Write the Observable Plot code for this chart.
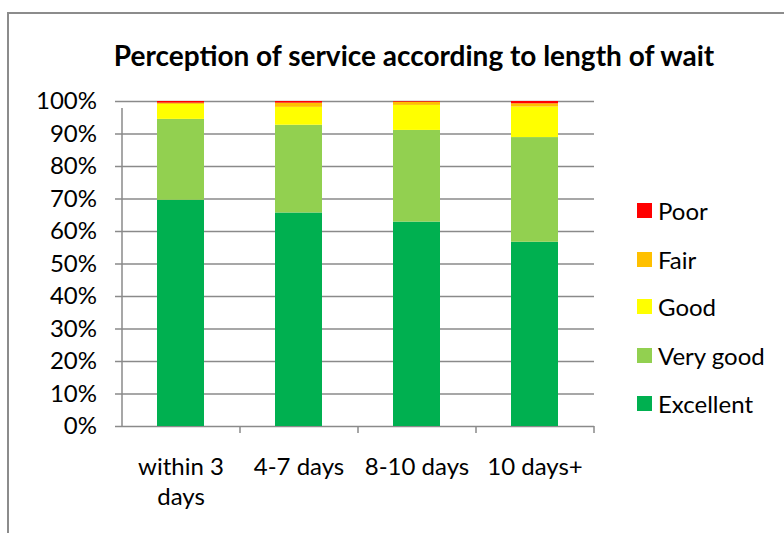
<!DOCTYPE html>
<html>
<head>
<meta charset="utf-8">
<script src="https://cdn.jsdelivr.net/npm/d3@7"></script>
<script src="https://cdn.jsdelivr.net/npm/@observablehq/plot@0.6"></script>
<style>
  html, body { margin: 0; padding: 0; background: #fff; }
  #wrap { position: relative; width: 784px; height: 533px; overflow: hidden; background: #fff; font-family: Lato, "Open Sans", sans-serif; }
  #frame { position: absolute; left: 7px; top: 12px; width: 820px; height: 600px; border: 2px solid #8c8c8c; box-sizing: border-box; }
  #title { position: absolute; left: 0; width: 828px; top: 38px; text-align: center; font-weight: bold; font-size: 28px; color: #000; line-height: 34px; }
  #chart { position: absolute; left: 0; top: 0; }
  .leg { position: absolute; left: 637px; font-size: 24px; color: #000; display: flex; align-items: center; }
  .leg span.sw { display: inline-block; width: 15px; height: 15px; margin-right: 6px; }
</style>
</head>
<body>
<div id="wrap">
  <div id="frame"></div>
  <div id="chart"></div>
  <div id="title">Perception of service according to length of wait</div>
</div>
<script>
const categories = ["within 3 days", "4-7 days", "8-10 days", "10 days+"];
const categoryLabels = ["within 3\ndays", "4-7 days", "8-10 days", "10 days+"];
const seriesNames = ["Excellent", "Very good", "Good", "Fair", "Poor"];
const seriesColors = ["#00B050", "#92D050", "#FFFF00", "#FFC000", "#FF0000"];
const excellent = [69.6, 65.7, 62.9, 56.7];
const veryGood  = [24.9, 27.0, 28.2, 32.2];
const good      = [4.6, 5.5, 7.7, 9.4];
const fair      = [0.4, 1.3, 1.0, 1.0];
const poor      = [0.5, 0.5, 0.2, 0.7];
const yTicks = [0, 0.1, 0.2, 0.3, 0.4, 0.5, 0.6, 0.7, 0.8, 0.9, 1.0];

const seriesValues = [excellent, veryGood, good, fair, poor];
const rows = [];
seriesNames.forEach((s, si) => {
  categories.forEach((c, ci) => {
    rows.push({category: c, series: s, value: seriesValues[si][ci] / 100});
  });
});

const gridColor = "#8a8a8a";
const step = (594 - 122) / categories.length;

const chart = Plot.plot({
  width: 784,
  height: 533,
  marginLeft: 122,
  marginRight: 190,
  marginTop: 101,
  marginBottom: 107,
  style: {fontFamily: "Lato, 'Open Sans', sans-serif", fontSize: "24px", color: "#000", background: "transparent"},
  x: {domain: categories, paddingInner: 0.6, paddingOuter: 0.3, axis: null},
  y: {domain: [0, 1], axis: null},
  color: {domain: seriesNames, range: seriesColors},
  marks: [
    Plot.ruleY(yTicks, {stroke: gridColor, strokeWidth: 1.5, insetLeft: -7}),
    Plot.barY(rows, {x: "category", y: "value", fill: "series", order: seriesNames}),
    Plot.ruleX([categories[0]], {x: d => d, y1: 0, y2: 1, dx: -step / 2, stroke: gridColor, strokeWidth: 1.5, insetBottom: -7}),
    Plot.ruleX(categories, {x: d => d, y1: 0, y2: 0, dx: step / 2, stroke: gridColor, strokeWidth: 1.5, insetBottom: -7}),
    Plot.text(yTicks, {x: () => categories[0], y: d => d, text: d => d3.format(".0%")(d), dx: -step / 2 - 25, textAnchor: "end", fill: "#000", fontSize: 24}),
    Plot.text(categories, {x: d => d, y: () => 0, text: (d, i) => categoryLabels[i], dy: 27, lineAnchor: "top", lineHeight: 1.25, fill: "#000", fontSize: 24})
  ]
});
document.getElementById("chart").appendChild(chart);

const wrap = document.getElementById("wrap");
const legendTops = {"Poor": 210, "Fair": 259, "Good": 306, "Very good": 355, "Excellent": 403};
seriesNames.slice().reverse().forEach(s => {
  const d = document.createElement("div");
  d.className = "leg";
  d.style.top = (legendTops[s] - 14) + "px";
  d.style.height = "28px";
  const sw = document.createElement("span");
  sw.className = "sw";
  sw.style.background = seriesColors[seriesNames.indexOf(s)];
  d.appendChild(sw);
  d.appendChild(document.createTextNode(s));
  wrap.appendChild(d);
});
</script>
</body>
</html>
